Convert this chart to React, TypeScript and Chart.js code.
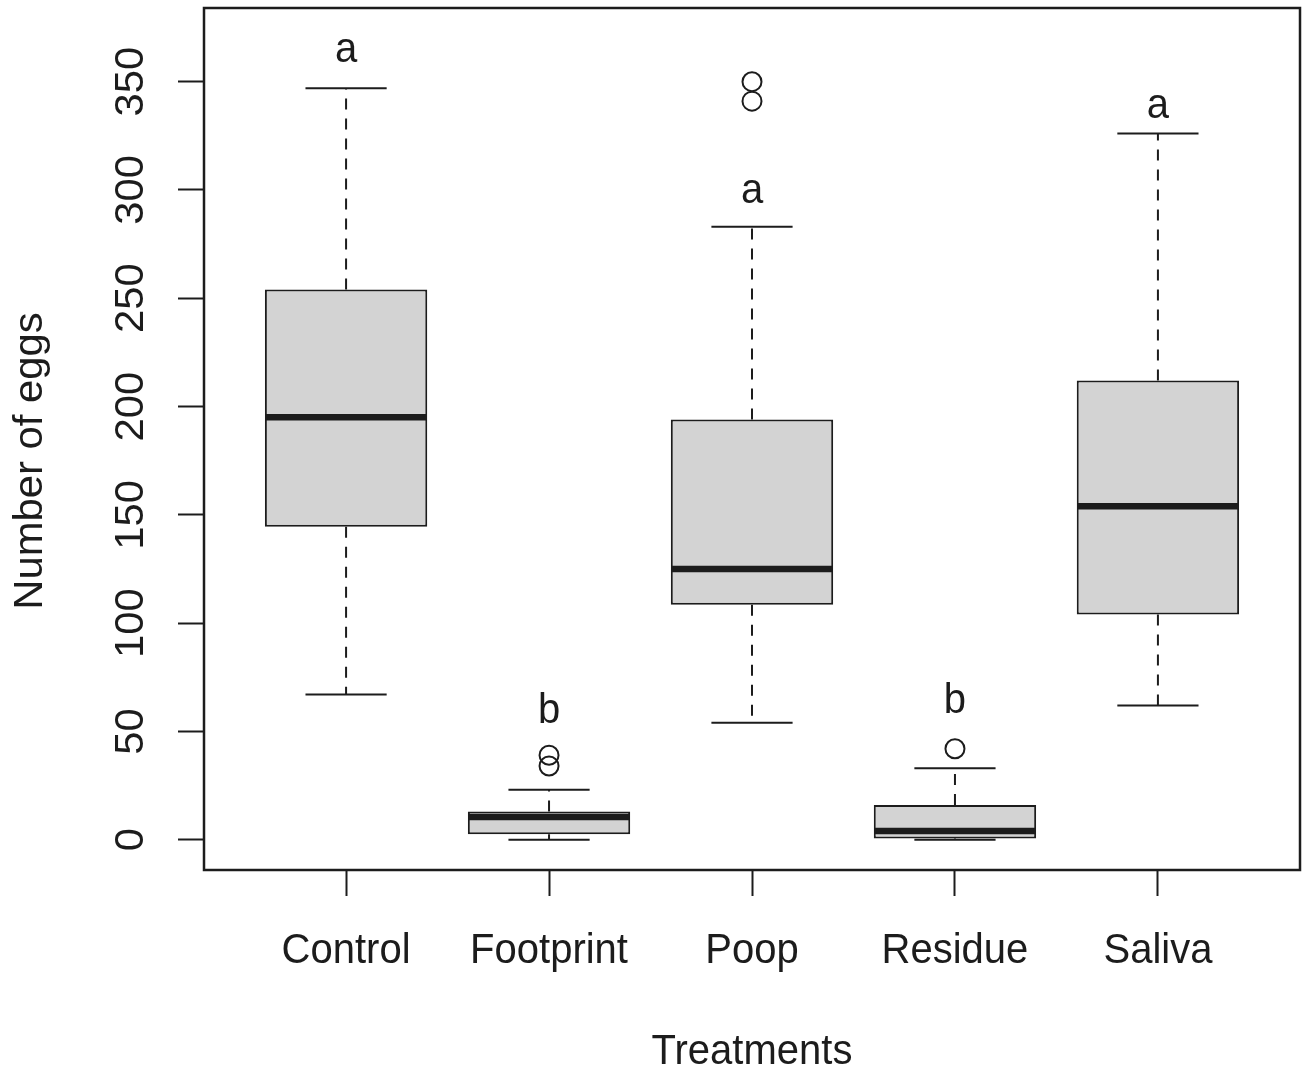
import React, { useEffect, useRef } from "react";
import { Chart, registerables } from "chart.js";

Chart.register(...registerables);

// ---- data ----
const categories = ["Control", "Footprint", "Poop", "Residue", "Saliva"];
const q1 = [144.5, 2.5, 108.5, 0.5, 104];
const medians = [195, 10.5, 125, 4, 154];
const q3 = [254, 13, 194, 16, 212];
const whiskerLow = [67, 0, 54, 0, 62];
const whiskerHigh = [347, 23, 283, 33, 326];
const outlierGroup = [2, 2, 3, 3, 4];
const outlierValues = [34, 39, 341, 350, 42];
const letters = ["a", "b", "a", "b", "a"];
const letterValues = [359, 54, 294, 58.5, 333];
const yTicks = [0, 50, 100, 150, 200, 250, 300, 350];
const xTitle = "Treatments";
const yTitle = "Number of eggs";

const INK = "#1c1c1c";
const FONT = "40px 'Liberation Sans', Arial, Helvetica, sans-serif";
const SY = 1.045;

function drawText(ctx: CanvasRenderingContext2D, text: string, x: number, y: number, rotate = false) {
  ctx.save();
  ctx.translate(x, y);
  ctx.scale(1, SY);
  if (rotate) ctx.rotate(-Math.PI / 2);
  ctx.fillText(text, 0, 0);
  ctx.restore();
}

const decorPlugin = {
  id: "boxDecor",
  afterDatasetsDraw(chart: any) {
    const ctx: CanvasRenderingContext2D = chart.ctx;
    const xs = chart.scales.x;
    const ys = chart.scales.y;
    const area = chart.chartArea;
    const boxes = chart.getDatasetMeta(0).data;

    ctx.save();
    ctx.strokeStyle = INK;
    for (let i = 0; i < categories.length; i++) {
      const cx = xs.getPixelForValue(i + 1);
      const w = boxes[i] ? boxes[i].width : 160;
      // whiskers (dashed)
      ctx.lineWidth = 2;
      ctx.setLineDash([11, 9]);
      ctx.beginPath();
      ctx.moveTo(cx, ys.getPixelForValue(q3[i]));
      ctx.lineTo(cx, ys.getPixelForValue(whiskerHigh[i]));
      ctx.moveTo(cx, ys.getPixelForValue(q1[i]));
      ctx.lineTo(cx, ys.getPixelForValue(whiskerLow[i]));
      ctx.stroke();
      ctx.setLineDash([]);
      // caps
      ctx.beginPath();
      const hc = w / 4;
      ctx.moveTo(cx - hc, ys.getPixelForValue(whiskerHigh[i]));
      ctx.lineTo(cx + hc, ys.getPixelForValue(whiskerHigh[i]));
      ctx.moveTo(cx - hc, ys.getPixelForValue(whiskerLow[i]));
      ctx.lineTo(cx + hc, ys.getPixelForValue(whiskerLow[i]));
      ctx.stroke();
      // median
      ctx.lineWidth = 6.5;
      ctx.beginPath();
      ctx.moveTo(cx - w / 2 + 1, ys.getPixelForValue(medians[i]));
      ctx.lineTo(cx + w / 2 - 1, ys.getPixelForValue(medians[i]));
      ctx.stroke();
    }

    // frame
    ctx.lineWidth = 2.5;
    ctx.strokeRect(area.left, area.top, area.right - area.left, area.bottom - area.top);

    // texts
    ctx.fillStyle = INK;
    ctx.font = FONT;
    ctx.textAlign = "center";
    ctx.textBaseline = "alphabetic";
    for (let i = 0; i < categories.length; i++) {
      const cx = xs.getPixelForValue(i + 1);
      drawText(ctx, letters[i], cx, ys.getPixelForValue(letterValues[i]));
      drawText(ctx, categories[i], cx, area.bottom + 93);
    }
    for (const v of yTicks) {
      drawText(ctx, String(v), area.left - 61, ys.getPixelForValue(v), true);
    }
    drawText(ctx, xTitle, (area.left + area.right) / 2, area.bottom + 194);
    drawText(ctx, yTitle, area.left - 162, (area.top + area.bottom) / 2 + 22, true);
    ctx.restore();
  },
};

export default function App() {
  const ref = useRef<HTMLCanvasElement>(null);

  useEffect(() => {
    const canvas = ref.current;
    if (!canvas) return;
    const tickGrid = {
      display: true,
      drawOnChartArea: false,
      drawTicks: true,
      tickLength: 26,
      tickWidth: 2,
      tickColor: INK,
      offset: false,
    };
    const chart = new Chart(canvas, {
      type: "bar",
      data: {
        datasets: [
          {
            type: "bar",
            label: "Interquartile range",
            data: categories.map((_, i) => ({ x: i + 1, y: [q1[i], q3[i]] })) as any,
            backgroundColor: "#d3d3d3",
            borderColor: INK,
            borderWidth: 2,
            borderSkipped: false,
            categoryPercentage: 1,
            barPercentage: 0.8,
            order: 2,
          } as any,
          {
            type: "scatter",
            label: "Outliers",
            data: outlierGroup.map((g, k) => ({ x: g, y: outlierValues[k] })),
            pointStyle: "circle",
            pointRadius: 9.5,
            pointBorderWidth: 2,
            borderColor: INK,
            backgroundColor: "rgba(0,0,0,0)",
            order: 1,
          } as any,
        ],
      },
      options: {
        responsive: false,
        animation: false,
        devicePixelRatio: 1,
        layout: { autoPadding: false, padding: { left: 0, top: 8, right: 4, bottom: 0 } },
        plugins: { legend: { display: false }, tooltip: { enabled: false } },
        scales: {
          x: {
            type: "linear",
            min: 0.3,
            max: 5.7,
            offset: false,
            grid: tickGrid,
            border: { display: false },
            ticks: { display: false },
            afterBuildTicks: (s: any) => {
              s.ticks = categories.map((_, i) => ({ value: i + 1 }));
            },
            afterFit: (s: any) => {
              s.height = 207;
            },
          },
          y: {
            type: "linear",
            min: -14,
            max: 384,
            grid: tickGrid,
            border: { display: false },
            ticks: { display: false },
            afterBuildTicks: (s: any) => {
              s.ticks = yTicks.map((v) => ({ value: v }));
            },
            afterFit: (s: any) => {
              s.width = 204;
            },
          },
        },
      } as any,
      plugins: [decorPlugin],
    });
    return () => chart.destroy();
  }, []);

  return (
    <div style={{ position: "absolute", left: 0, top: 0, width: 1304, height: 1077, background: "#fff" }}>
      <canvas ref={ref} width={1304} height={1077} style={{ display: "block" }} />
    </div>
  );
}
